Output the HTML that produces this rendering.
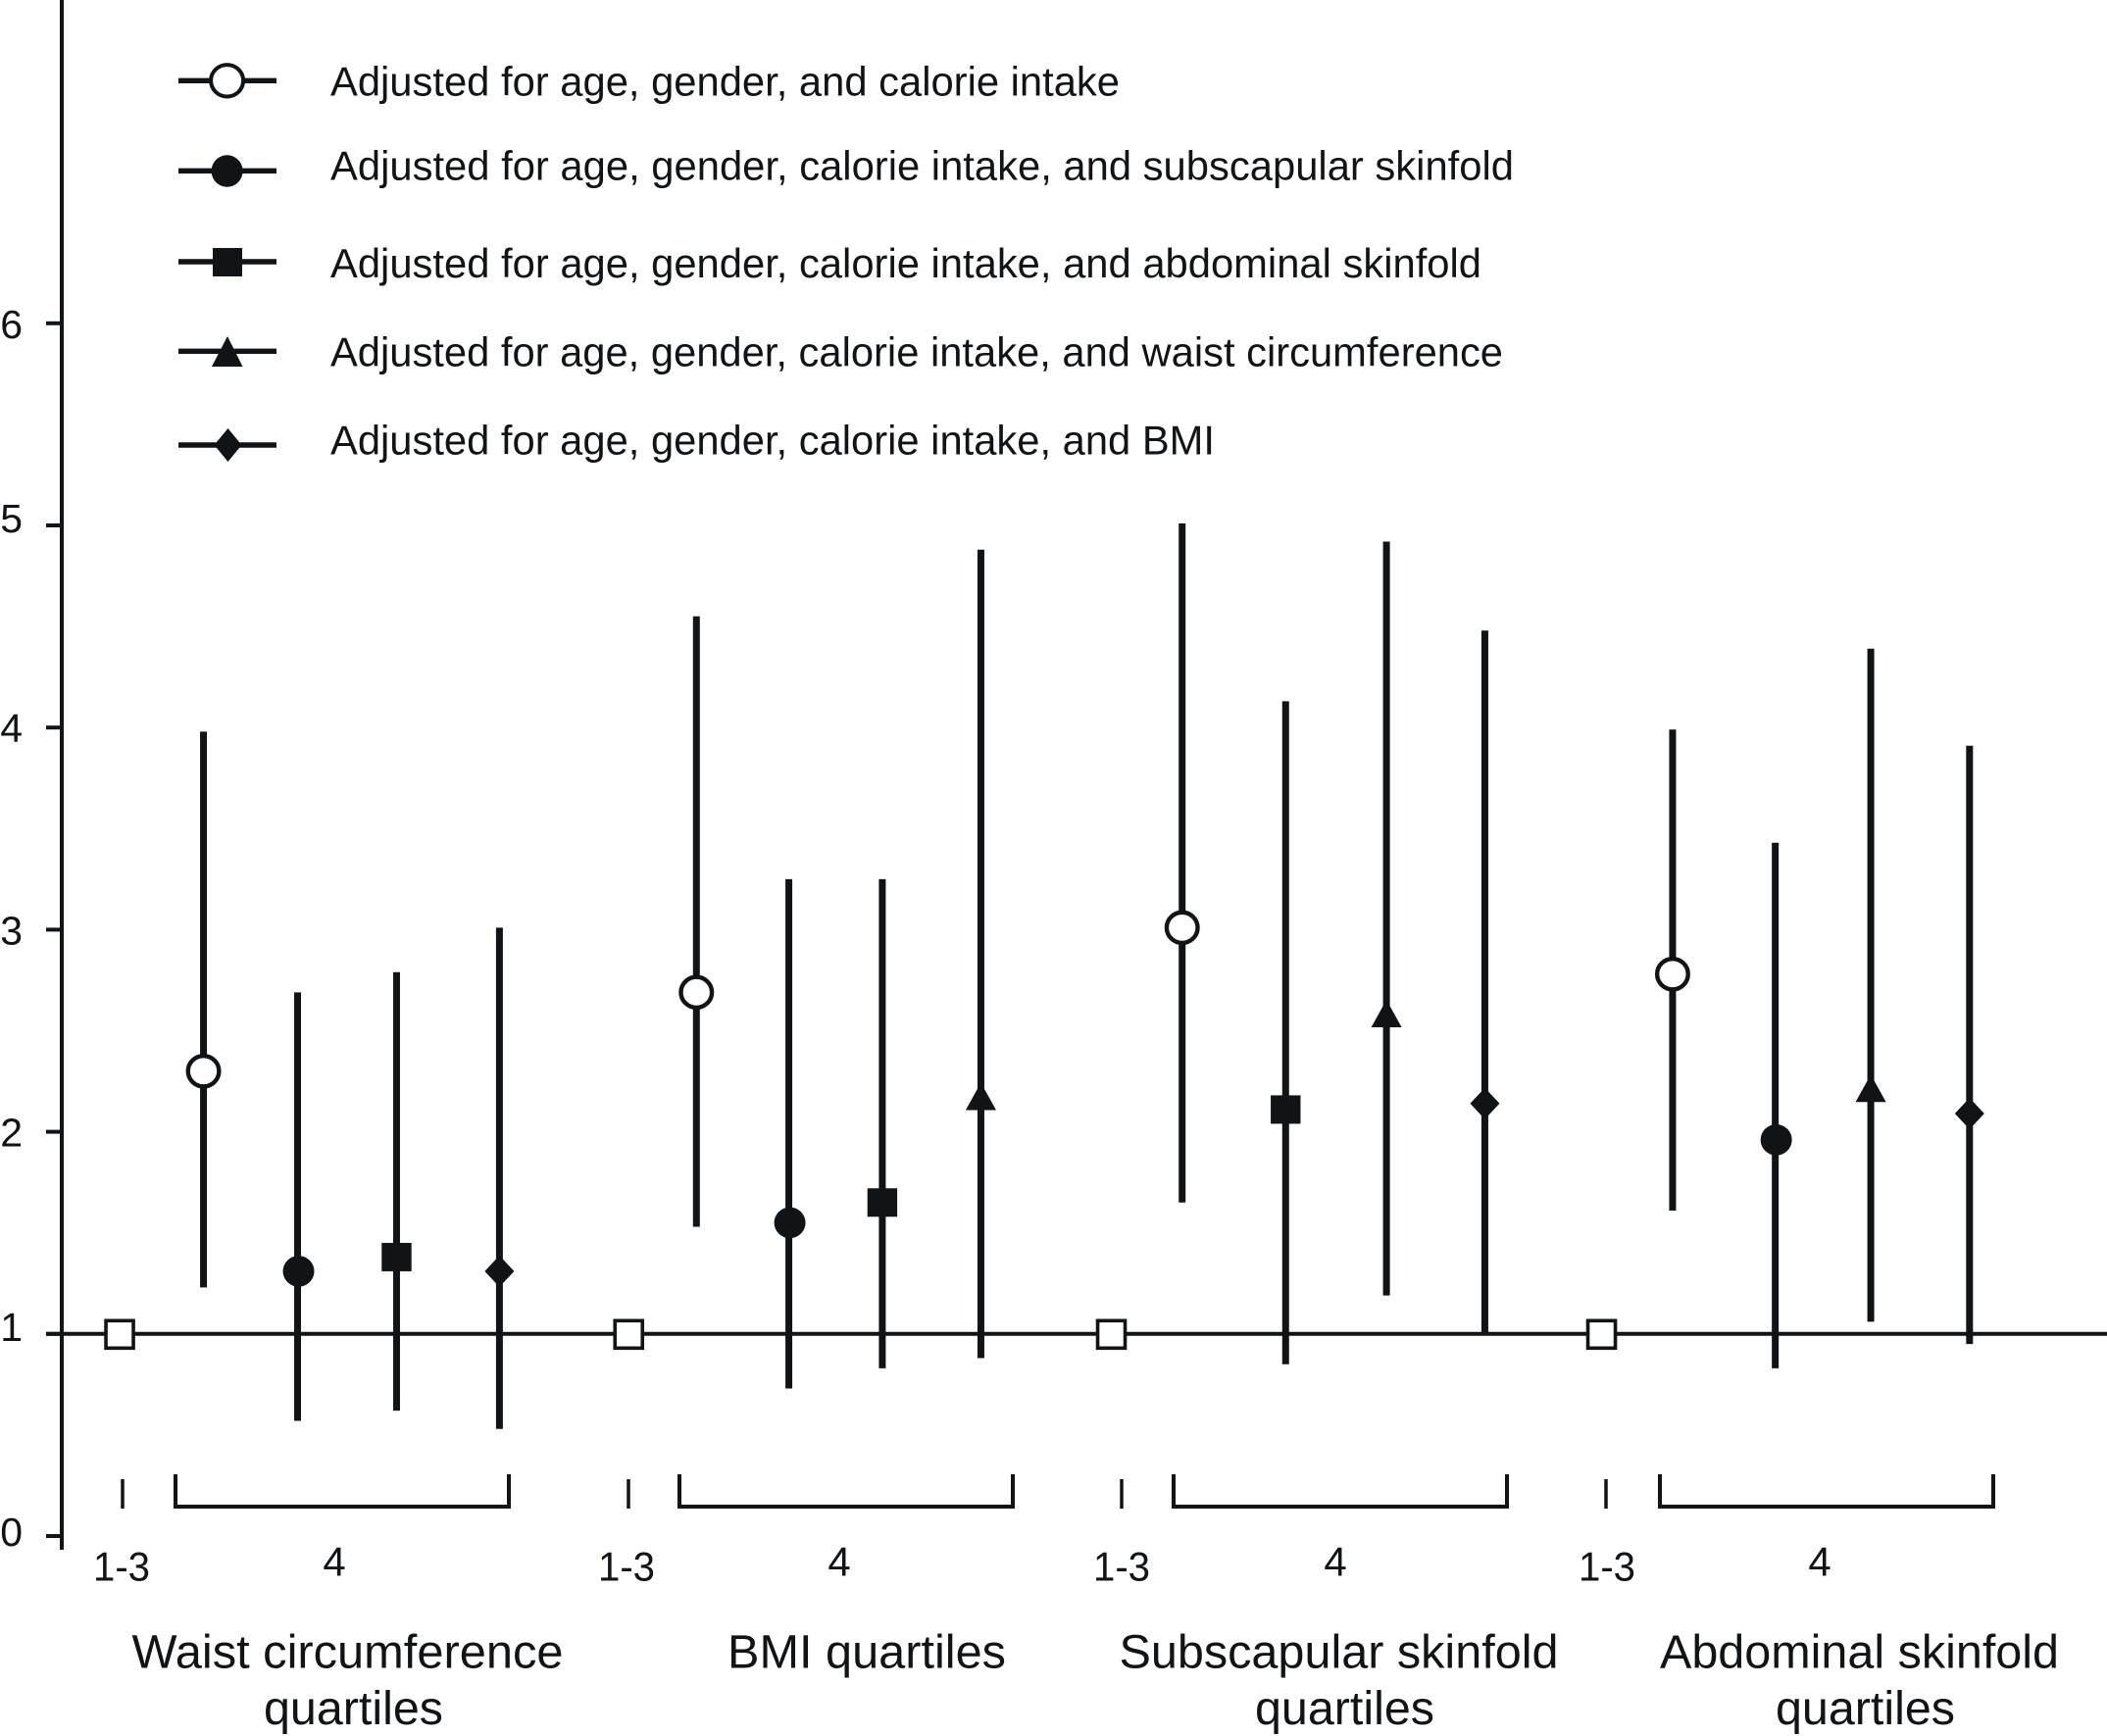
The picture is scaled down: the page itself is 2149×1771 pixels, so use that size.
<!DOCTYPE html>
<html lang="en">
<head>
<meta charset="utf-8">
<title>Adjusted odds by body fat quartiles</title>
<style>
html,body{margin:0;padding:0;background:#fff;width:2149px;height:1771px;overflow:hidden}
svg{display:block}
text{font-family:"Liberation Sans",sans-serif;fill:#111416}
.leg{font-size:42px}
.tick{font-size:41px}
.quart{font-size:42px}
.title{font-size:48px}
</style>
</head>
<body>
<svg id="chart" xmlns="http://www.w3.org/2000/svg" width="2149" height="1771" viewBox="0 0 2149 1771">
  <rect x="0" y="0" width="2149" height="1771" fill="#fff"/>
  <g id="axes"></g>
  <g id="marks"></g>

  <g stroke="#111416" fill="#111416">
    <g>
      <line x1="182" x2="282" y1="82.3" y2="82.3" stroke-width="5.4"/>
      <ellipse cx="231.6" cy="82.3" rx="16.5" ry="16.2" fill="#fff" stroke-width="4"/>
      <text class="leg" x="337" y="97.5" stroke="none" textLength="805" lengthAdjust="spacingAndGlyphs">Adjusted for age, gender, and calorie intake</text>
    </g>
    <g>
      <line x1="182" x2="282" y1="174.3" y2="174.3" stroke-width="5.4"/>
      <ellipse cx="231.6" cy="174.5" rx="16" ry="16.2" stroke="none"/>
      <text class="leg" x="337" y="183.5" stroke="none" textLength="1207" lengthAdjust="spacingAndGlyphs">Adjusted for age, gender, calorie intake, and subscapular skinfold</text>
    </g>
    <g>
      <line x1="182" x2="282" y1="267" y2="267" stroke-width="5.4"/>
      <rect x="217" y="253" width="30" height="29" stroke="none"/>
      <text class="leg" x="337" y="283" stroke="none" textLength="1174" lengthAdjust="spacingAndGlyphs">Adjusted for age, gender, calorie intake, and abdominal skinfold</text>
    </g>
    <g>
      <line x1="182" x2="282" y1="358.3" y2="358.3" stroke-width="5.4"/>
      <polygon points="232,343 247.5,374 216,374" stroke="none"/>
      <text class="leg" x="337" y="373.5" stroke="none" textLength="1196" lengthAdjust="spacingAndGlyphs">Adjusted for age, gender, calorie intake, and waist circumference</text>
    </g>
    <g>
      <line x1="182" x2="282" y1="454" y2="454" stroke-width="5.4"/>
      <polygon points="232.5,437 246.5,454 232.5,471 218.5,454" stroke="none"/>
      <text class="leg" x="337" y="463.5" stroke="none" textLength="902" lengthAdjust="spacingAndGlyphs">Adjusted for age, gender, calorie intake, and BMI</text>
    </g>
  </g>

  <g fill="none" stroke="#111416" stroke-width="4">
    <line x1="125" x2="125" y1="1509" y2="1539" stroke-width="3.5"/>
    <path d="M179 1504V1537H519V1504"/>
    <line x1="641" x2="641" y1="1509" y2="1539" stroke-width="3.5"/>
    <path d="M693 1504V1537H1033V1504"/>
    <line x1="1144" x2="1144" y1="1509" y2="1539" stroke-width="3.5"/>
    <path d="M1197 1504V1537H1537V1504"/>
    <line x1="1638" x2="1638" y1="1509" y2="1539" stroke-width="3.5"/>
    <path d="M1693 1504V1537H2033V1504"/>
  </g>

  <g text-anchor="middle">
    <text class="quart" x="124" y="1612.5" textLength="58" lengthAdjust="spacingAndGlyphs">1-3</text>
    <text class="quart" x="341" y="1607.5">4</text>
    <text class="quart" x="639" y="1612.5" textLength="58" lengthAdjust="spacingAndGlyphs">1-3</text>
    <text class="quart" x="856" y="1607.5">4</text>
    <text class="quart" x="1144" y="1612.5" textLength="58" lengthAdjust="spacingAndGlyphs">1-3</text>
    <text class="quart" x="1362" y="1607.5">4</text>
    <text class="quart" x="1639" y="1612.5" textLength="58" lengthAdjust="spacingAndGlyphs">1-3</text>
    <text class="quart" x="1856" y="1607.5">4</text>
  </g>

  <g>
    <text class="title" x="134.5" y="1701.5" textLength="440" lengthAdjust="spacingAndGlyphs">Waist circumference</text>
    <text class="title" x="269" y="1759" textLength="183" lengthAdjust="spacingAndGlyphs">quartiles</text>
    <text class="title" x="742" y="1701.5" textLength="284" lengthAdjust="spacingAndGlyphs">BMI quartiles</text>
    <text class="title" x="1141.5" y="1701.5" textLength="448" lengthAdjust="spacingAndGlyphs">Subscapular skinfold</text>
    <text class="title" x="1280" y="1759" textLength="183" lengthAdjust="spacingAndGlyphs">quartiles</text>
    <text class="title" x="1693" y="1701.5" textLength="407" lengthAdjust="spacingAndGlyphs">Abdominal skinfold</text>
    <text class="title" x="1811" y="1759" textLength="183" lengthAdjust="spacingAndGlyphs">quartiles</text>
  </g>
</svg>

<script>
// Y axis ticks
const yTickValues = [0, 1, 2, 3, 4, 5, 6];
const yTickLabels = ["0", "1", "2", "3", "4", "5", "6"];

// Quartile groups
const groupNames = ["waist", "bmi", "subscapular", "abdominal"];
const referenceValues = [1, 1, 1, 1];
const referencePositions = [2.83, 27.72, 51.32, 75.29];

// Marker shape of each estimate, per group
const waistMarkers = ["open", "filled", "square", "diamond"];
const bmiMarkers = ["open", "filled", "square", "triangle"];
const subscapularMarkers = ["open", "square", "triangle", "diamond"];
const abdominalMarkers = ["open", "filled", "triangle", "diamond"];

// Horizontal position on the category axis (0-100 axis units)
const waistPositions = [6.93, 11.53, 16.37, 21.40];
const bmiPositions = [31.03, 35.55, 40.12, 44.94];
const subscapularPositions = [54.78, 59.84, 64.77, 69.58];
const abdominalPositions = [78.76, 83.78, 88.45, 93.28];

// Point estimates
const waistEstimates = [2.30, 1.31, 1.38, 1.31];
const bmiEstimates = [2.69, 1.55, 1.65, 2.17];
const subscapularEstimates = [3.01, 2.11, 2.58, 2.14];
const abdominalEstimates = [2.78, 1.96, 2.21, 2.09];

// Lower confidence limits
const waistLower = [1.23, 0.57, 0.62, 0.53];
const bmiLower = [1.53, 0.73, 0.83, 0.88];
const subscapularLower = [1.65, 0.85, 1.19, 1.00];
const abdominalLower = [1.61, 0.83, 1.06, 0.95];

// Upper confidence limits
const waistUpper = [3.98, 2.69, 2.79, 3.01];
const bmiUpper = [4.55, 3.25, 3.25, 4.88];
const subscapularUpper = [5.01, 4.13, 4.92, 4.48];
const abdominalUpper = [3.99, 3.43, 4.39, 3.91];

const markerSets = [waistMarkers, bmiMarkers, subscapularMarkers, abdominalMarkers];
const positionSets = [waistPositions, bmiPositions, subscapularPositions, abdominalPositions];
const estimateSets = [waistEstimates, bmiEstimates, subscapularEstimates, abdominalEstimates];
const lowerSets = [waistLower, bmiLower, subscapularLower, abdominalLower];
const upperSets = [waistUpper, bmiUpper, subscapularUpper, abdominalUpper];

const INK = "#111416";
const NS = "http://www.w3.org/2000/svg";

function yScale(v) { return 1360.8 - 206.2 * (v - 1); }
function xScale(u) { return 63 + 20.86 * u; }

function make(tag, parent, attrs) {
  const el = document.createElementNS(NS, tag);
  for (const k in attrs) el.setAttribute(k, attrs[k]);
  parent.appendChild(el);
  return el;
}

const axes = document.getElementById("axes");
const marks = document.getElementById("marks");

// Axis line
const axisLine = make("line", axes, {x1: 63, x2: 63, y1: 0, y2: 1581, stroke: INK, "stroke-width": 4});



// Ticks and tick labels
yTickValues.forEach(function (v, i) {
  const y = yScale(v);
  const tick = make("line", axes, {x1: 47, x2: 63, y1: y, y2: y, stroke: INK, "stroke-width": 4});
  
  
  const nudge = (v === 1 || v === 5) ? 7 : (v === 0 ? 10 : 15);
  const label = make("text", axes, {x: 23, y: y + nudge, "text-anchor": "end", "class": "tick"});
  label.textContent = yTickLabels[i];
  
  
});

// Error bars
groupNames.forEach(function (group, g) {
  positionSets[g].forEach(function (pos, i) {
    const x = xScale(pos);
    const bar = make("line", marks, {
      x1: x, x2: x,
      y1: yScale(upperSets[g][i]), y2: yScale(lowerSets[g][i]),
      stroke: INK, "stroke-width": 7
    });
    
    
  });
});

// Reference line at 1
const refLine = make("line", marks, {
  x1: 47, x2: 2149,
  y1: yScale(referenceValues[0]), y2: yScale(referenceValues[0]),
  stroke: INK, "stroke-width": 4
});



// Reference markers (quartiles 1-3)
groupNames.forEach(function (group, g) {
  const x = xScale(referencePositions[g]);
  const y = yScale(referenceValues[g]);
  const box = make("rect", marks, {
    x: x - 14, y: y - 13.5, width: 28, height: 28,
    fill: "#fff", stroke: INK, "stroke-width": 3.6
  });
  
  
});

function drawMarker(kind, x, y) {
  if (kind === "open") {
    return make("ellipse", marks, {cx: x, cy: y, rx: 15.8, ry: 15.6, fill: "#fff", stroke: INK, "stroke-width": 4.4});
  }
  if (kind === "filled") {
    return make("ellipse", marks, {cx: x + 1, cy: y, rx: 16, ry: 15.8, fill: INK});
  }
  if (kind === "square") {
    return make("rect", marks, {x: x - 15.2, y: y - 14.5, width: 30.4, height: 29, fill: INK});
  }
  if (kind === "triangle") {
    const pts = [[x, y - 15], [x + 15.5, y + 13], [x - 15.5, y + 13]];
    return make("polygon", marks, {points: pts.join(" "), fill: INK});
  }
  const pts = [[x, y - 16], [x + 15, y], [x, y + 16], [x - 15, y]];
  return make("polygon", marks, {points: pts.join(" "), fill: INK});
}

// Point estimate markers
groupNames.forEach(function (group, g) {
  markerSets[g].forEach(function (kind, i) {
    const marker = drawMarker(kind, xScale(positionSets[g][i]), yScale(estimateSets[g][i]));
    
    
  });
});
</script>
</body>
</html>
